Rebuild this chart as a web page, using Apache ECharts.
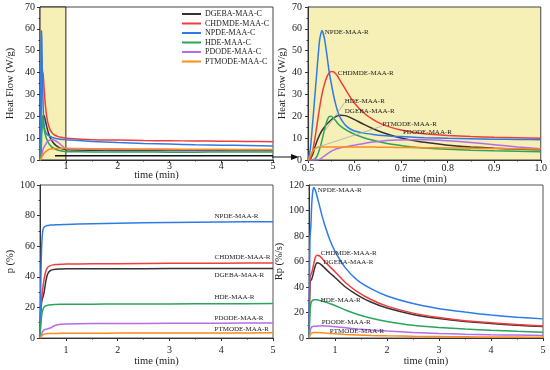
<!DOCTYPE html>
<html><head><meta charset="utf-8">
<script src="https://cdn.jsdelivr.net/npm/echarts@6/dist/echarts.min.js"></script>
<style>html,body{margin:0;padding:0;background:#fff}#c{width:550px;height:370px}</style>
</head><body><div id="c"></div>
<script>
// ---------- DATA ----------
const legendC = ['DGEBA-MAA-C', 'CHDMDE-MAA-C', 'NPDE-MAA-C', 'HDE-MAA-C', 'PDODE-MAA-C', 'PTMODE-MAA-C'];
const namesR = ['DGEBA-MAA-R', 'CHDMDE-MAA-R', 'NPDE-MAA-R', 'HDE-MAA-R', 'PDODE-MAA-R', 'PTMODE-MAA-R'];

// Heat flow, early region (min)
const tZoom = [0.5,0.505,0.51,0.515,0.52,0.525,0.53,0.535,0.54,0.545,0.55,0.555,0.56,0.565,0.57,0.58,0.59,0.6,0.62,0.64,0.66,0.68,0.7,0.72,0.75,0.8,0.85,0.9,0.95,1.0];
const hfDGEBA  = [0,0.5,2.5,6,9,11.5,13.5,15,16.3,17.4,18.4,19.2,19.9,20.3,20.5,20.3,19.5,18.5,16.3,14.3,12.6,11.2,10.1,9.2,8.1,6.8,6,5.4,5,4.7];
const hfCHDMDE = [0,1,4,10,17,24,30,34.5,37.8,39.7,40.5,40.3,39.3,37.8,36,32.5,29,26,21.5,18.5,16.3,14.8,13.7,12.9,12,11.2,10.7,10.4,10.2,10];
const hfNPDE   = [0,5,17,30,43,55,59.3,56,49,41,35,29.5,25,21.5,19,16,14.3,13.3,12.3,11.7,11.2,10.9,10.7,10.5,10.2,9.9,9.7,9.5,9.4,9.3];
const hfHDE    = [0,0,0,0.5,2,5,9,13.5,17.5,19.8,20,19,17.8,16.5,15.5,14,12.8,11.8,10.2,9,8,7.2,6.6,6.1,5.5,4.9,4.5,4.2,4,3.8];
const hfPDODE  = [0,0,0,0,0,0.3,1,1.8,2.6,3.3,4,4.5,5,5.3,5.6,6,6.4,6.8,7.6,8.2,8.7,9,9.2,9.3,9.3,8.8,8,7,6,5.2];
const hfPTMODE = [0,2,4,5.2,5.7,5.9,6,6,6,6,6,6,6,6,6,6,6,6,5.95,5.9,5.85,5.8,5.75,5.7,5.6,5.5,5.4,5.3,5.15,5.0];

// Heat flow, -C curves beyond 1 min
const tLong = [1.5,2,2.5,3,3.5,4,4.5,5];
const cDGEBA  = [4.5,4.4,4.4,4.3,4.3,4.3,4.3,4.3];
const cCHDMDE = [9.3,9.1,8.9,8.8,8.7,8.6,8.5,8.4];
const cNPDE   = [8.5,8,7.6,7.3,7,6.8,6.6,6.4];
const cHDE    = [3.7,3.7,3.7,3.6,3.6,3.7,3.7,3.7];
const cPDODE  = [4.9,4.8,4.8,4.7,4.7,4.7,4.7,4.7];
const cPTMODE = [5.2,5.1,5.0,5.0,4.9,4.9,4.8,4.8];
const tOrangeC = [0.5,0.53,0.56,0.6,0.65,0.7,0.8,0.9,1.0];
const cPTMODEearly = [0,1.2,2.4,3.6,4.5,5.0,5.3,5.4,5.4];
const tBaseC = [0.79, 5];
const cBase = [2.0, 2.0];

// Conversion p (%)
const tP = [0.5,0.51,0.52,0.53,0.54,0.55,0.56,0.58,0.6,0.62,0.65,0.7,0.75,0.8,0.9,1.0,1.5,2,3,4,5];
const pDGEBA  = [0,14,20,23,25,26,27,30,34.5,38.5,42,44,44.7,45,45.1,45.2,45.3,45.3,45.4,45.5,45.5];
const pCHDMDE = [0,15,22,25,28,31,34,38.5,42,44.5,46.3,47.3,47.8,48,48.2,48.3,48.5,48.6,48.8,48.9,49];
const pNPDE   = [0,22,45,58,65,69,71,72.5,73,73.3,73.5,73.8,73.9,74,74.1,74.2,74.7,75,75.5,75.8,76];
const pHDE    = [0,5,10,14,16.5,18,19,20.2,20.8,21.1,21.4,21.7,21.8,21.9,22,22,22.1,22.2,22.3,22.4,22.5];
const pPDODE  = [0,0.5,1.5,2.5,3.3,4,4.6,5.3,5.6,5.8,6,6.5,7.5,8.3,9,9.2,9.4,9.5,9.6,9.7,9.8];
const pPTMODE = [0,0.3,0.8,1.3,1.7,2,2.2,2.5,2.7,2.8,2.9,3.0,3.0,3.0,3.05,3.1,3.15,3.2,3.25,3.3,3.4];

// Rate Rp (%/s)
const tR = [0.5,0.51,0.52,0.53,0.54,0.55,0.57,0.59,0.62,0.65,0.7,0.75,0.8,0.9,1.0,1.2,1.44,1.7,2,2.5,3,3.5,4,4.5,5];
const rDGEBA  = [0,28,43,45,45.5,46,48.5,52,56.5,59,58.5,57,55,51,47.5,40,33.5,28,23.5,18.5,15.3,13,11.4,10,9];
const rCHDMDE = [0,30,47,49,50,51,54,58,63,65,64.5,62.5,60,56,52,43.5,36,30,25,19.5,16,13.5,12,10.5,9.5];
const rNPDE   = [0,50,80,84,92,103,114,118,116,112,104,96,89,77,68,55,45,38.5,33,27,23,20.3,18,16.3,15];
const rHDE    = [0,10,20,25,27.5,28.5,29.5,30,30,30,29.5,29,28.5,27,25.5,22,18.5,15.5,13,10,8.3,7,6,5.2,4.5];
const rPDODE  = [0,2,5,7,8,8.5,9,9.2,9.3,9.3,9.5,9.6,9.5,9.2,8.8,8,7,6.2,5.4,4.3,3.6,3,2.6,2.3,2];
const rPTMODE = [0,1,2.2,3,3.5,3.8,4.1,4.3,4.4,4.4,4.3,4.1,3.9,3.6,3.3,2.8,2.4,2,1.7,1.3,1.1,0.9,0.8,0.7,0.6];

// Tick values
const timeTicks = [1,2,3,4,5];
const timeMinor = [1.5,2.5,3.5,4.5];

// ---------- STYLE / LAYOUT ----------
const colors = ['#333333', '#f03c3c', '#2f7be6', '#2aa55a', '#b56ce8', '#ff8a1e'];
const yellow = '#f6efb6';
const FONT = 'Liberation Serif';
const zip = (t, v) => t.map((x, i) => [x, v[i]]);

// label anchors (data coordinates) for annotations
const lab2 = [[0.579,22.4],[0.564,39.8],[0.536,58.6],[0.579,27],[0.704,12.8],[0.66,16.5]];
const lab3 = [[3.87,41.3],[3.87,53],[3.87,79.8],[3.87,27],[3.87,13.2],[3.87,6.1]];
const lab4 = [[0.78,59.8],[0.725,66.9],[0.667,116.3],[0.725,30],[0.744,12.8],[0.9,5.7]];

const labelStyle = {show: true, position: 'right', distance: 0, color: '#222', fontSize: 7, fontFamily: FONT};
function labels(anchor, text) {
  return {symbol: 'circle', symbolSize: 0, silent: true, data: [{coord: anchor, value: 0, label: Object.assign({}, labelStyle, {formatter: text})}]};
}

const hfEarly = [hfDGEBA, hfCHDMDE, hfNPDE, hfHDE, hfPDODE, hfPTMODE];
const hfLong = [cDGEBA, cCHDMDE, cNPDE, cHDE, cPDODE, cPTMODE];
const pAll = [pDGEBA, pCHDMDE, pNPDE, pHDE, pPDODE, pPTMODE];
const rAll = [rDGEBA, rCHDMDE, rNPDE, rHDE, rPDODE, rPTMODE];

const baseLine = {type: 'line', showSymbol: false, symbol: 'none', smooth: 0.2, lineStyle: {width: 1.5}, z: 3};
const series = [];

// Panel 1
hfEarly.forEach((arr, i) => {
  let data;
  if (i === 5) data = zip(tOrangeC, cPTMODEearly).concat(zip(tLong, hfLong[i]));
  else data = zip(tZoom, arr).concat(zip(tLong, hfLong[i]));
  const s = Object.assign({}, baseLine, {name: legendC[i], xAxisIndex: 0, yAxisIndex: 0, data, color: colors[i], lineStyle: {width: 1.5, color: colors[i]}});
  if (i === 0) {
    s.markArea = {silent: true, z: 1, itemStyle: {color: yellow, borderColor: '#222', borderWidth: 1},
      data: [[{coord: [0.5, 0]}, {coord: [1, 70]}]]};
  }
  series.push(s);
});
series.push(Object.assign({}, baseLine, {name: 'base', xAxisIndex: 0, yAxisIndex: 0, data: zip(tBaseC, cBase), color: '#111', lineStyle: {width: 1.5, color: '#111'}}));

// Panel 2
hfEarly.forEach((arr, i) => {
  const s = Object.assign({}, baseLine, {name: namesR[i] + ' ', xAxisIndex: 1, yAxisIndex: 1, data: zip(tZoom, arr), color: colors[i], lineStyle: {width: 1.5, color: colors[i]},
    markPoint: labels(lab2[i], namesR[i])});
  if (i === 3) {
    s.markLine = {silent: true, symbol: 'none', lineStyle: {color: '#aaa', width: 0.8, type: 'solid'}, label: {show: false},
      data: [[{coord: [0.578, 26]}, {coord: [0.535, 13]}], [{coord: [0.659, 15.5]}, {coord: [0.515, 5.5]}]]};
  }
  series.push(s);
});
// Panel 3
pAll.forEach((arr, i) => {
  series.push(Object.assign({}, baseLine, {name: namesR[i] + '  ', xAxisIndex: 2, yAxisIndex: 2, data: zip(tP, arr), color: colors[i], lineStyle: {width: 1.5, color: colors[i]},
    markPoint: labels(lab3[i], namesR[i])}));
});
// Panel 4
rAll.forEach((arr, i) => {
  series.push(Object.assign({}, baseLine, {name: namesR[i] + '   ', xAxisIndex: 3, yAxisIndex: 3, data: zip(tR, arr), color: colors[i], lineStyle: {width: 1.5, color: colors[i]},
    markPoint: labels(lab4[i], namesR[i])}));
});

const axisLine = {show: true, lineStyle: {color: '#333', width: 1}};
const tickLbl = {color: '#222', fontSize: 10, fontFamily: FONT};
const nameStyle = {color: '#222', fontSize: 10.5, fontFamily: FONT};

function timeAxis(grid, labelMargin, nameGap, withName) {
  const a = {type: 'value', gridIndex: grid, min: 0.5, max: 5, interval: 0.5,
    axisLine, splitLine: {show: false},
    axisTick: {show: true, customValues: timeTicks, length: 3, lineStyle: {color: '#333'}},
    axisLabel: Object.assign({}, tickLbl, {customValues: timeTicks, margin: labelMargin})};
  if (withName) Object.assign(a, {name: 'time (min)', nameLocation: 'middle', nameGap, nameTextStyle: nameStyle});
  return a;
}
function minorAxis(grid, nameGap) {
  const a = {type: 'value', gridIndex: grid, min: 0.5, max: 5, interval: 0.5, position: 'bottom',
    axisLine: {show: false}, splitLine: {show: false}, axisLabel: {show: false},
    axisTick: {show: true, customValues: timeMinor, length: 1.5, lineStyle: {color: '#333'}}};
  if (nameGap != null) Object.assign(a, {name: 'time (min)', nameLocation: 'middle', nameGap, nameMoveOverlap: false, nameTextStyle: nameStyle});
  return a;
}
function yAxis(grid, max, interval, name, nameGap, labelMargin) {
  return {type: 'value', gridIndex: grid, min: 0, max, interval, axisLine, splitLine: {show: false},
    axisTick: {show: true, length: 3, lineStyle: {color: '#333'}},
    minorTick: {show: true, splitNumber: 2, length: 1.5, lineStyle: {color: '#333'}},
    axisLabel: Object.assign({}, tickLbl, {margin: labelMargin}),
    name, nameLocation: 'middle', nameGap, nameTextStyle: nameStyle};
}

const option = {
  animation: false,
  textStyle: {fontFamily: FONT},
  grid: [
    {left: 40, top: 7, width: 233, height: 153, show: true, borderColor: '#444', borderWidth: 1, backgroundColor: '#fff'},
    {left: 308, top: 7, width: 235, height: 153, show: true, borderColor: '#444', borderWidth: 1, backgroundColor: yellow},
    {left: 40, top: 185, width: 233, height: 153, show: true, borderColor: '#555', borderWidth: 1, backgroundColor: '#fff'},
    {left: 309, top: 185, width: 234, height: 153, show: true, borderColor: '#555', borderWidth: 1, backgroundColor: '#fff'}
  ],
  xAxis: [
    timeAxis(0, 1, 0, false),
    {type: 'value', gridIndex: 1, min: 0.5, max: 1.0, interval: 0.1, axisLine, splitLine: {show: false},
      axisTick: {show: true, length: 3, lineStyle: {color: '#333'}},
      minorTick: {show: true, splitNumber: 2, length: 1.5, lineStyle: {color: '#333'}},
      axisLabel: Object.assign({}, tickLbl, {margin: 3, formatter: v => (Math.round(v * 10) / 10).toFixed(1)}),
      name: 'time (min)', nameLocation: 'middle', nameGap: 14, nameTextStyle: nameStyle},
    timeAxis(2, 7, 18, true),
    timeAxis(3, 7, 18, true),
    minorAxis(0, 10), minorAxis(2), minorAxis(3)
  ],
  yAxis: [
    yAxis(0, 70, 10, 'Heat Flow (W/g)', 24, 5),
    yAxis(1, 70, 10, 'Heat Flow (W/g)', 19, 6),
    yAxis(2, 100, 20, 'p (%)', 24, 5),
    yAxis(3, 120, 20, 'Rp (%/s)', 23, 5)
  ],
  legend: {
    data: legendC, orient: 'vertical', left: 182, top: 10, padding: 0, itemGap: 1.5,
    itemWidth: 19, itemHeight: 2, icon: 'rect',
    textStyle: {color: '#222', fontSize: 8, fontFamily: FONT, padding: [0, 0, 0, -1]},
    selectedMode: false
  },
  graphic: [
    {type: 'line', shape: {x1: 272, y1: 157, x2: 292, y2: 157}, style: {stroke: '#111', lineWidth: 1}, z: 100},
    {type: 'polygon', shape: {points: [[299, 157], [291, 154], [291, 160]]}, style: {fill: '#111'}, z: 100}
  ],
  series
};

const chart = echarts.init(document.getElementById('c'), null, {renderer: 'canvas'});
chart.setOption(option);
</script></body></html>
